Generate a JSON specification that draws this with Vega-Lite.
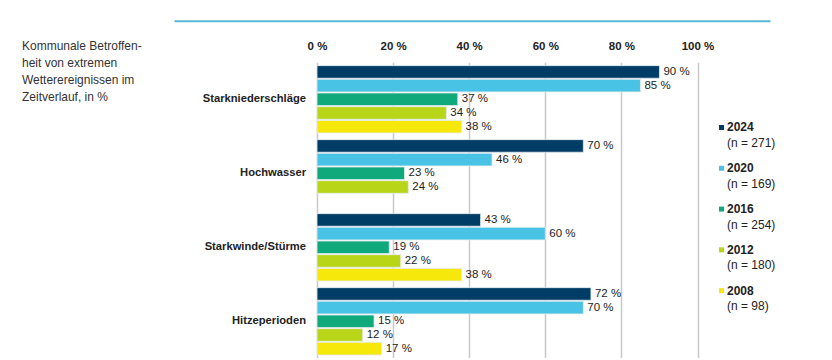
{
  "$schema": "https://vega.github.io/schema/vega-lite/v6.json",
  "width": 380.5,
  "height": 296,
  "padding": {"left": 21, "top": 19.3, "right": 5, "bottom": 0},
  "background": "white",
  "config": {"view": {"stroke": null}, "font": "Liberation Sans"},
  "layer": [
    {
      "data": {"values": [
        {"category": "Starkniederschläge", "year": 2024, "value": 90},
        {"category": "Starkniederschläge", "year": 2020, "value": 85},
        {"category": "Starkniederschläge", "year": 2016, "value": 37},
        {"category": "Starkniederschläge", "year": 2012, "value": 34},
        {"category": "Starkniederschläge", "year": 2008, "value": 38},
        {"category": "Hochwasser", "year": 2024, "value": 70},
        {"category": "Hochwasser", "year": 2020, "value": 46},
        {"category": "Hochwasser", "year": 2016, "value": 23},
        {"category": "Hochwasser", "year": 2012, "value": 24},
        {"category": "Starkwinde/Stürme", "year": 2024, "value": 43},
        {"category": "Starkwinde/Stürme", "year": 2020, "value": 60},
        {"category": "Starkwinde/Stürme", "year": 2016, "value": 19},
        {"category": "Starkwinde/Stürme", "year": 2012, "value": 22},
        {"category": "Starkwinde/Stürme", "year": 2008, "value": 38},
        {"category": "Hitzeperioden", "year": 2024, "value": 72},
        {"category": "Hitzeperioden", "year": 2020, "value": 70},
        {"category": "Hitzeperioden", "year": 2016, "value": 15},
        {"category": "Hitzeperioden", "year": 2012, "value": 12},
        {"category": "Hitzeperioden", "year": 2008, "value": 17}
      ]},
      "encoding": {
        "x": {
          "field": "value", "type": "quantitative",
          "scale": {"domain": [0, 100], "nice": false, "zero": true},
          "axis": {
            "orient": "top", "values": [0, 20, 40, 60, 80, 100],
            "labelExpr": "datum.value + ' %'", "title": null,
            "grid": true, "gridColor": "#c8c8c8", "gridWidth": 1.5,
            "ticks": false, "tickSize": 0, "domain": false,
            "labelFontWeight": "bold", "labelFontSize": 11.5, "labelColor": "#222",
            "labelPadding": 11, "labelFlush": false
          }
        },
        "y": {
          "field": "category", "type": "nominal",
          "sort": ["Starkniederschläge", "Hochwasser", "Starkwinde/Stürme", "Hitzeperioden"],
          "scale": {"paddingInner": 0.09, "paddingOuter": 0.045},
          "axis": {
            "title": ["Kommunale Betroffen-", "heit von extremen", "Wetterereignissen im", "Zeitverlauf, in %"],
            "titleAngle": 0, "titleAlign": "left", "titleBaseline": "top",
            "titleX": -295.5, "titleY": -21.5,
            "titleFontWeight": "normal", "titleFontSize": 12, "titleColor": "#333", "titleLineHeight": 16.9,
            "labelFontWeight": "bold", "labelFontSize": 11.2, "labelColor": "#222",
            "labelPadding": 11.5, "ticks": false, "tickSize": 0, "domain": false
          }
        },
        "yOffset": {
          "field": "year", "type": "nominal",
          "sort": [2024, 2020, 2016, 2012, 2008],
          "scale": {"paddingInner": 0.08}
        }
      },
      "layer": [
        {
          "mark": {"type": "bar", "stroke": "#e4ecf0", "strokeWidth": 0.8},
          "encoding": {
            "color": {
              "field": "year", "type": "nominal",
              "scale": {"domain": [2024, 2020, 2016, 2012, 2008], "range": ["#003d66", "#48c2e5", "#10a97c", "#b8d617", "#f6e80a"]},
              "legend": null
            }
          }
        },
        {
          "mark": {"type": "text", "align": "left", "dx": 4, "fontSize": 11.5, "color": "#222", "text": {"expr": "datum.value + ' %'"}}
        }
      ]
    },
    {
      "data": {"values": [{}]},
      "mark": {"type": "rule", "color": "#5cb6d8", "strokeWidth": 2},
      "encoding": {
        "x": {"datum": -0.3745, "type": "quantitative", "scale": {"domain": [0, 1], "nice": false, "zero": false}, "axis": null},
        "x2": {"datum": 1.1919},
        "y": {"datum": 1.139, "type": "quantitative", "scale": {"domain": [0, 1], "nice": false, "zero": false}, "axis": null}
      }
    },
    {
      "data": {"values": [
        {"year": 2024, "n": "(n =  271)"},
        {"year": 2020, "n": "(n = 169)"},
        {"year": 2016, "n": "(n = 254)"},
        {"year": 2012, "n": "(n = 180)"},
        {"year": 2008, "n": "(n = 98)"}
      ]},
      "encoding": {
        "x": {"datum": 1.0631, "type": "quantitative", "scale": {"domain": [0, 1], "nice": false, "zero": false}, "axis": null},
        "y": {"field": "year", "type": "quantitative", "scale": {"domain": [2001.37, 2030.39], "nice": false, "zero": false}, "axis": null}
      },
      "layer": [
        {"mark": {"type": "square", "size": 25, "opacity": 1, "filled": true}, "encoding": {"color": {"field": "year", "type": "nominal"}}},
        {"mark": {"type": "text", "align": "left", "dx": 5.5, "fontWeight": "bold", "fontSize": 12, "color": "#222"}, "encoding": {"text": {"field": "year", "type": "nominal"}}},
        {"mark": {"type": "text", "align": "left", "dx": 5.5, "dy": 15.6, "fontSize": 12, "color": "#222"}, "encoding": {"text": {"field": "n", "type": "nominal"}}}
      ]
    }
  ],
  "resolve": {"scale": {"x": "independent", "y": "independent"}}
}
